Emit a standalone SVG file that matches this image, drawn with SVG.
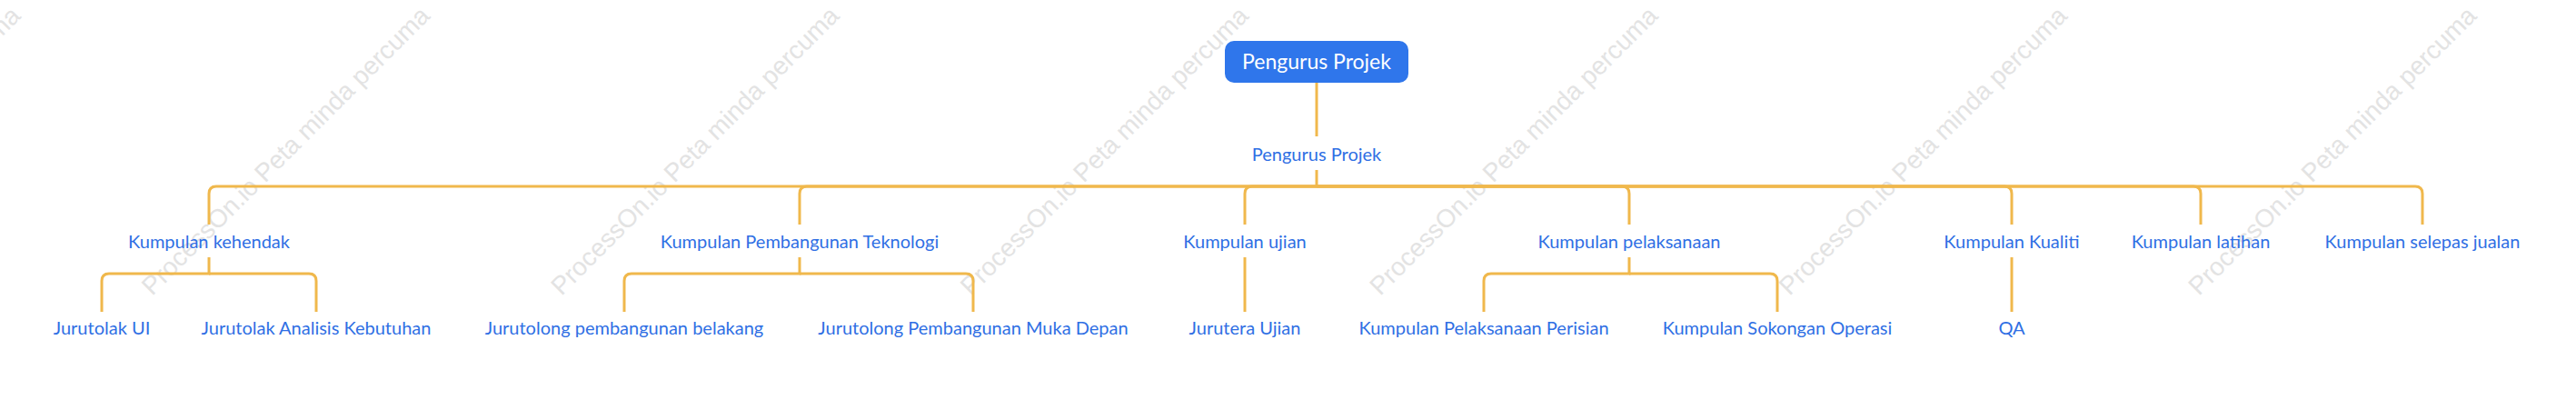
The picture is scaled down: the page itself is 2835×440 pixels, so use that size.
<svg xmlns="http://www.w3.org/2000/svg" width="2835" height="440" viewBox="0 0 2835 440">
<style>
.wm{font-family:"Liberation Sans",Arial,sans-serif;font-size:28px;fill:#e3e3e3}
.t{font-family:Lato,"Liberation Sans",sans-serif;font-size:20px;fill:#2f6fe4;text-anchor:middle}
.rt{font-family:Lato,"Liberation Sans",sans-serif;font-size:23px;fill:#ffffff;text-anchor:middle}
.c{fill:none;stroke:#f0b84c;stroke-width:3;stroke-linecap:butt}
</style>
<rect width="2835" height="440" fill="#ffffff"/>
<g id="watermarks">
<text class="wm" transform="translate(-283,326) rotate(-45)">ProcessOn.io Peta minda percuma</text>
<text class="wm" transform="translate(167.5,326) rotate(-45)">ProcessOn.io Peta minda percuma</text>
<text class="wm" transform="translate(618,326) rotate(-45)">ProcessOn.io Peta minda percuma</text>
<text class="wm" transform="translate(1068.5,326) rotate(-45)">ProcessOn.io Peta minda percuma</text>
<text class="wm" transform="translate(1519,326) rotate(-45)">ProcessOn.io Peta minda percuma</text>
<text class="wm" transform="translate(1969.5,326) rotate(-45)">ProcessOn.io Peta minda percuma</text>
<text class="wm" transform="translate(2420,326) rotate(-45)">ProcessOn.io Peta minda percuma</text>
</g>
<g id="connectors">
<path class="c" d="M1449,91 V150"/>
<path class="c" d="M1449,187 V205"/>
<path class="c" d="M1449,205 H238 Q230,205 230,213 V247"/>
<path class="c" d="M1449,205 H888 Q880,205 880,213 V247"/>
<path class="c" d="M1449,205 H1378 Q1370,205 1370,213 V247"/>
<path class="c" d="M1449,205 H1785 Q1793,205 1793,213 V247"/>
<path class="c" d="M1449,205 H2206 Q2214,205 2214,213 V247"/>
<path class="c" d="M1449,205 H2414 Q2422,205 2422,213 V247"/>
<path class="c" d="M1449,205 H2658 Q2666,205 2666,213 V247"/>
<path class="c" d="M230,283 V301 H120 Q112,301 112,309 V343"/>
<path class="c" d="M230,301 H340 Q348,301 348,309 V343"/>
<path class="c" d="M880,283 V301 H695 Q687,301 687,309 V343"/>
<path class="c" d="M880,301 H1063 Q1071,301 1071,309 V343"/>
<path class="c" d="M1370,283 V343"/>
<path class="c" d="M1793,283 V301 H1641 Q1633,301 1633,309 V343"/>
<path class="c" d="M1793,301 H1948 Q1956,301 1956,309 V343"/>
<path class="c" d="M2214,283 V343"/>
</g>
<g id="root"><rect x="1348" y="45" width="202" height="46" rx="10" fill="#2f76eb"/><text class="rt" x="1449" y="76">Pengurus Projek</text></g>
<g id="n-pengurus"><text class="t" x="1449" y="177">Pengurus Projek</text></g>
<g id="n-kehendak"><text class="t" x="230" y="273">Kumpulan kehendak</text></g>
<g id="n-teknologi"><text class="t" x="880" y="273">Kumpulan Pembangunan Teknologi</text></g>
<g id="n-ujian"><text class="t" x="1370" y="273">Kumpulan ujian</text></g>
<g id="n-pelaksanaan"><text class="t" x="1793" y="273">Kumpulan pelaksanaan</text></g>
<g id="n-kualiti"><text class="t" x="2214" y="273">Kumpulan Kualiti</text></g>
<g id="n-latihan"><text class="t" x="2422" y="273">Kumpulan latihan</text></g>
<g id="n-jualan"><text class="t" x="2666" y="273">Kumpulan selepas jualan</text></g>
<g id="n-ui"><text class="t" x="112" y="368">Jurutolak UI</text></g>
<g id="n-analisis"><text class="t" x="348" y="368">Jurutolak Analisis Kebutuhan</text></g>
<g id="n-belakang"><text class="t" x="687" y="368">Jurutolong pembangunan belakang</text></g>
<g id="n-depan"><text class="t" x="1071" y="368">Jurutolong Pembangunan Muka Depan</text></g>
<g id="n-jurutera"><text class="t" x="1370" y="368">Jurutera Ujian</text></g>
<g id="n-perisian"><text class="t" x="1633" y="368">Kumpulan Pelaksanaan Perisian</text></g>
<g id="n-sokongan"><text class="t" x="1956" y="368">Kumpulan Sokongan Operasi</text></g>
<g id="n-qa"><text class="t" x="2214" y="368">QA</text></g>
</svg>
